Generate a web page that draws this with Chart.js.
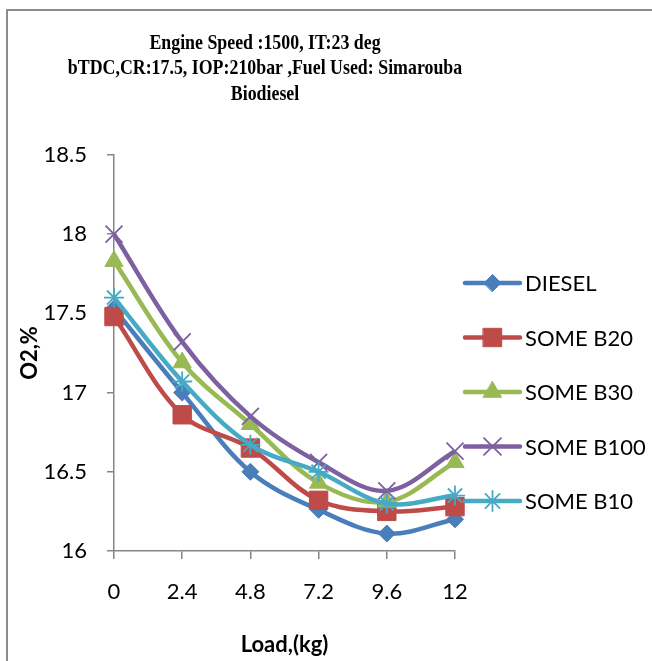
<!DOCTYPE html>
<html>
<head>
<meta charset="utf-8">
<script src="https://cdn.jsdelivr.net/npm/chart.js@4/dist/chart.umd.min.js"></script>
<style>
  html, body { margin: 0; padding: 0; background: #fff; }
  #wrap { position: relative; width: 652px; height: 661px; }
  #frame {
    position: absolute; left: 6px; top: 9px; right: 0; bottom: 0;
    border-top: 2px solid #8c8c8c; border-left: 2px solid #8c8c8c;
  }
  #chartO2 { position: absolute; left: 0; top: 0; }
</style>
</head>
<body>
<div id="wrap">
  <div id="frame"></div>
  <canvas id="chartO2" width="652" height="661"></canvas>
</div>
<script>
// === DATOS ===
const loads = ['0', '2.4', '4.8', '7.2', '9.6', '12'];
const fuels = ['DIESEL', 'SOME B20', 'SOME B30', 'SOME B100', 'SOME B10'];
const diesel = [17.53, 17.0, 16.5, 16.26, 16.11, 16.2];
const someB20 = [17.48, 16.86, 16.65, 16.32, 16.25, 16.28];
const someB30 = [17.83, 17.19, 16.8, 16.43, 16.31, 16.56];
const someB100 = [18.0, 17.32, 16.85, 16.56, 16.38, 16.63];
const someB10 = [17.6, 17.07, 16.67, 16.5, 16.3, 16.35];
const yTicks = { min: 16, max: 18.5, step: 0.5 };
const titleLines = [
  'Engine Speed :1500, IT:23 deg',
  'bTDC,CR:17.5, IOP:210bar ,Fuel Used: Simarouba',
  'Biodiesel'
];

const colors = ['#4a7ebb', '#be4b48', '#98b954', '#7d60a0', '#46aac5'];
const markers = [
  { style: 'rectRot', r: 8.5, bw: 1 },
  { style: 'rect', r: 13, bw: 1 },
  { style: 'triangle', r: 10.5, bw: 1 },
  { style: 'crossRot', r: 12, bw: 1.8 },
  { style: 'star', r: 10, bw: 1.8 }
];
const series = [diesel, someB20, someB30, someB100, someB10];

const FONT = 'Lato, "Open Sans", sans-serif';
const GRAY = '#868686';

// titulo (fuente serif algo condensada), centrado un poco a la izquierda
const titlePlugin = {
  id: 'oldTitle',
  afterDraw(chart) {
    const ctx = chart.ctx;
    ctx.save();
    ctx.fillStyle = '#000';
    ctx.font = 'bold 21px "Liberation Serif", serif';
    ctx.textAlign = 'center';
    ctx.textBaseline = 'alphabetic';
    ctx.translate(265, 0);
    ctx.scale(0.85, 1);
    titleLines.forEach((t, i) => ctx.fillText(t, 0, 49 + i * 25.3));
    ctx.restore();
  }
};

// leyenda lateral: linea + marcador + texto
const sideLegend = {
  id: 'sideLegend',
  afterDraw(chart) {
    const { ctx, chartArea } = chart;
    chart.data.datasets.forEach((ds, i) => {
      const y = 283 + i * 54.5;
      const x0 = chartArea.right + 10;
      ctx.save();
      ctx.strokeStyle = ds.borderColor;
      ctx.lineWidth = ds.borderWidth;
      ctx.lineCap = 'round';
      ctx.beginPath();
      ctx.moveTo(x0, y);
      ctx.lineTo(x0 + 55, y);
      ctx.stroke();
      ctx.fillStyle = ds.pointBackgroundColor;
      ctx.strokeStyle = ds.pointBorderColor;
      ctx.lineWidth = ds.pointBorderWidth;
      Chart.helpers.drawPoint(ctx, {
        pointStyle: ds.pointStyle, radius: ds.pointRadius,
        borderWidth: ds.pointBorderWidth, rotation: 0
      }, x0 + 27.5, y);
      ctx.fillStyle = '#000';
      ctx.font = '22px ' + FONT;
      ctx.textAlign = 'left';
      ctx.textBaseline = 'middle';
      ctx.fillText(ds.label, x0 + 60, y + 1);
      ctx.restore();
    });
  }
};

const datasets = series.map((vals, i) => ({
  label: fuels[i],
  data: vals,
  borderColor: colors[i],
  backgroundColor: colors[i],
  borderWidth: 4.5,
  tension: 0.35,
  pointStyle: markers[i].style,
  pointRadius: markers[i].r,
  pointHoverRadius: markers[i].r,
  pointBackgroundColor: colors[i],
  pointBorderColor: colors[i],
  pointBorderWidth: markers[i].bw,
  order: series.length - i
}));

new Chart(document.getElementById('chartO2'), {
  type: 'line',
  data: { labels: loads, datasets: datasets },
  options: {
    responsive: false,
    animation: false,
    layout: { padding: { top: 155, right: 197, bottom: 0, left: 0 } },
    plugins: {
      legend: { display: false },
      title: { display: false },
      tooltip: { enabled: false }
    },
    scales: {
      x: {
        offset: false,
        afterFit: (s) => { s.height = 110; },
        grid: { drawOnChartArea: false, drawTicks: true, tickLength: 8, color: GRAY, lineWidth: 1.5 },
        border: { color: GRAY, width: 1.5 },
        ticks: { color: '#000', padding: 20, font: { family: FONT, size: 22 } },
        title: {
          display: true, text: 'Load,(kg)', color: '#000',
          font: { family: FONT, size: 22, weight: 'bold' },
          padding: { top: 0, bottom: 3 }
        }
      },
      y: {
        min: yTicks.min,
        max: yTicks.max,
        afterFit: (s) => { s.width = 114; },
        grid: { drawOnChartArea: false, drawTicks: true, tickLength: 7, color: GRAY, lineWidth: 1.5 },
        border: { color: GRAY, width: 1.5 },
        ticks: {
          stepSize: yTicks.step, color: '#000', padding: 20,
          font: { family: FONT, size: 22 },
          callback: (v) => String(Number(v.toFixed(1)))
        },
        title: {
          display: true, text: 'O2,%', color: '#000',
          font: { family: FONT, size: 22, weight: 'bold' },
          padding: { top: 17, bottom: 0 }
        }
      }
    }
  },
  plugins: [titlePlugin, sideLegend]
});
</script>
</body>
</html>
